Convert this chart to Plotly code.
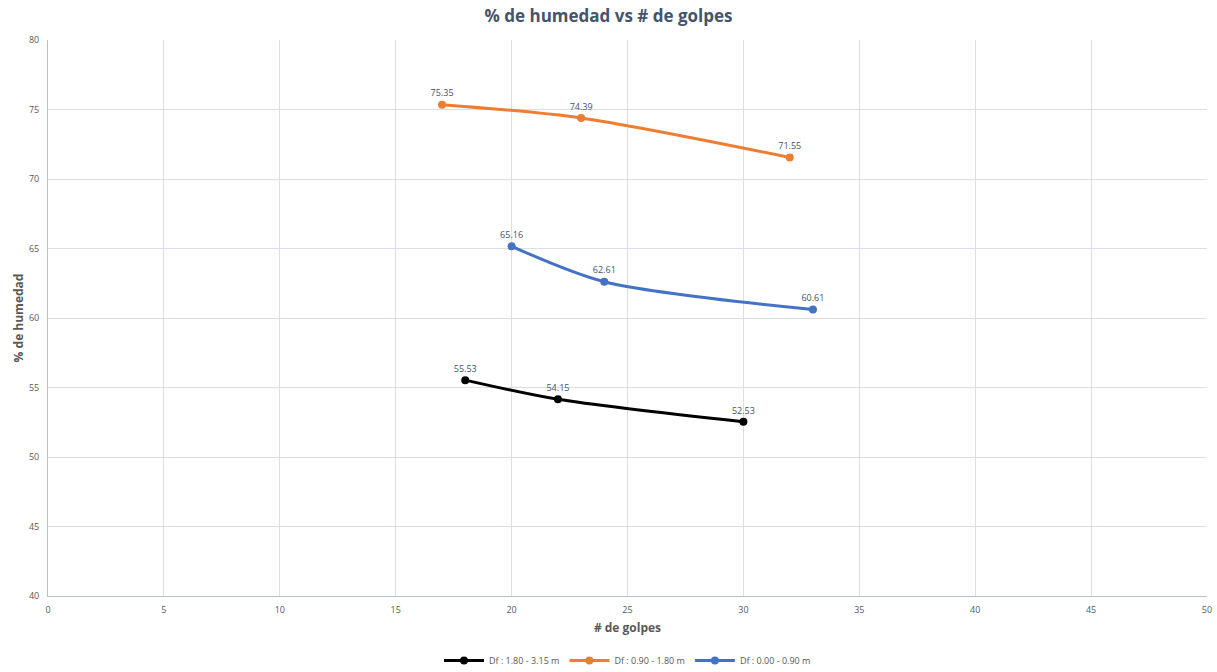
import plotly.graph_objects as go

# Moisture content (%) vs number of blows for three depth ranges
golpes_a = [18, 22, 30]
humedad_a = [55.53, 54.15, 52.53]
golpes_b = [17, 23, 32]
humedad_b = [75.35, 74.39, 71.55]
golpes_c = [20, 24, 33]
humedad_c = [65.16, 62.61, 60.61]

series = [
    ("Df : 1.80 - 3.15 m", golpes_a, humedad_a, "#000000"),
    ("Df : 0.90 - 1.80 m", golpes_b, humedad_b, "#ED7D31"),
    ("Df : 0.00 - 0.90 m", golpes_c, humedad_c, "#4472C4"),
]

font_family = "Open Sans, Liberation Sans, sans-serif"

fig = go.Figure()
for name, xs, ys, color in series:
    fig.add_trace(go.Scatter(
        x=xs, y=ys, name=name, mode="lines+markers+text",
        line=dict(color=color, width=3, shape="spline", smoothing=0.8),
        marker=dict(color=color, size=8),
        text=[f"{v:.2f}" for v in ys], textposition="top center",
        textfont=dict(size=9, color="#44546A", family=font_family),
    ))

fig.update_layout(
    width=1217, height=672,
    margin=dict(l=48, r=10, t=40, b=76, autoexpand=False),
    paper_bgcolor="white", plot_bgcolor="white",
    font=dict(family=font_family, color="#595959"),
    title=dict(text="<b>% de humedad vs # de golpes</b>", x=0.5, xanchor="center",
               y=0.985, yanchor="top",
               font=dict(size=17, color="#44546A", family=font_family)),
    showlegend=True,
    legend=dict(orientation="h", x=0.5, xanchor="center", y=-0.09, yanchor="top",
                font=dict(size=9, color="#595959"), itemwidth=40,
                tracegroupgap=0),
    xaxis=dict(range=[0, 50], dtick=5, showgrid=True, gridcolor="#D9DEE8",
               showline=True, linecolor="#B4C0D8", linewidth=1, zeroline=False,
               ticks="outside", ticklen=5, tickcolor="rgba(0,0,0,0)",
               automargin=False, tickfont=dict(size=9, color="#595959"),
               title=dict(text="<b># de golpes</b>", font=dict(size=12, color="#595959"),
                          standoff=8)),
    yaxis=dict(range=[40, 80], dtick=5, showgrid=True, gridcolor="#D9DEE8",
               showline=True, linecolor="#B4C0D8", linewidth=1, zeroline=False,
               ticks="outside", ticklen=6, tickcolor="rgba(0,0,0,0)",
               automargin=False, tickfont=dict(size=9, color="#595959"),
               title=dict(text="<b>% de humedad</b>", font=dict(size=12, color="#595959"),
                          standoff=2)),
)

fig.write_html("out.html")
